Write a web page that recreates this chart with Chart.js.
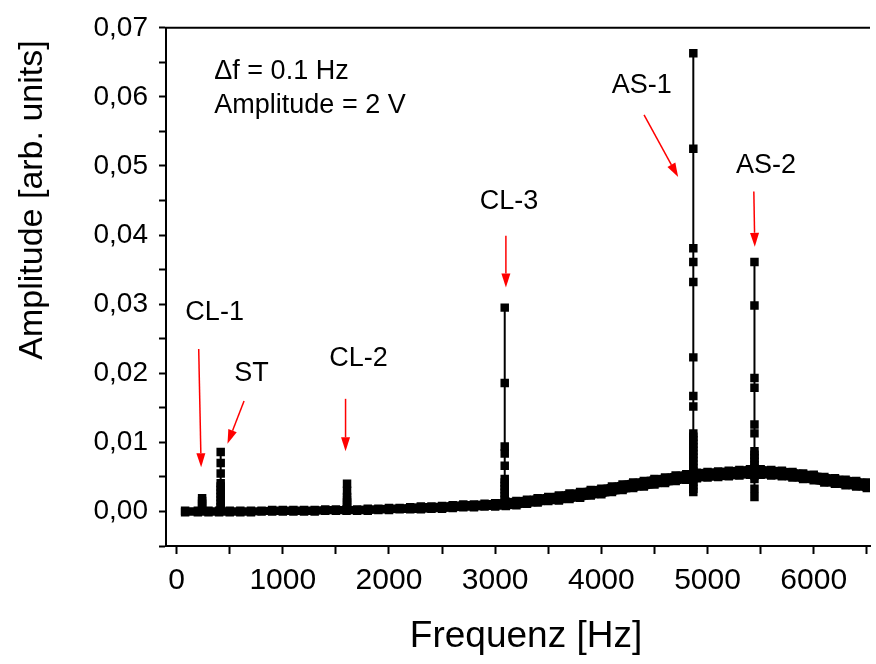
<!DOCTYPE html>
<html>
<head>
<meta charset="utf-8">
<script src="https://cdn.jsdelivr.net/npm/chart.js@4/dist/chart.umd.min.js"></script>
<style>
  html, body { margin: 0; padding: 0; background: #fff; overflow: hidden; }
  canvas { display: block; }
</style>
</head>
<body>
<canvas id="spectrum" width="876" height="664"></canvas>
<script>
// --- data ---
const freqBase = [80, 200, 300, 400, 500, 600, 700, 800, 900, 1000, 1100, 1200, 1300, 1400, 1500, 1600, 1700, 1800, 1900,
    2000, 2100, 2200, 2300, 2400, 2500, 2600, 2700, 2800, 2900, 3000, 3100, 3200, 3300, 3400, 3500, 3600, 3700, 3800,
    3900, 4000, 4100, 4200, 4300, 4400, 4500, 4600, 4700, 4800, 4900, 5000, 5100, 5200, 5300, 5400, 5500, 5600, 5700,
    5800, 5900, 6000, 6100, 6200, 6300, 6400, 6500, 6600];
const ampHigh = [0.0001, 0.0001, 0.0001, 0.0001, 0.0001, 0.0001, 0.0001, 0.0001, 0.0002, 0.0002, 0.0002, 0.0002, 0.0002,
    0.0003, 0.0003, 0.0003, 0.0003, 0.0004, 0.0004, 0.0005, 0.0005, 0.0006, 0.0007, 0.0007, 0.0008, 0.0009, 0.0010,
    0.0010, 0.0011, 0.0012, 0.0014, 0.0015, 0.0017, 0.0019, 0.0021, 0.0023, 0.0026, 0.0028, 0.0031, 0.0033, 0.0036,
    0.0039, 0.0042, 0.0044, 0.0047, 0.0049, 0.0052, 0.0054, 0.0056, 0.0057, 0.0058, 0.0059, 0.0060, 0.0061, 0.0061,
    0.0060, 0.0059, 0.0057, 0.0055, 0.0053, 0.0050, 0.0048, 0.0046, 0.0044, 0.0042, 0.0041];
const ampLow = [-0.0001, -0.0001, -0.0001, -0.0001, -0.0001, -0.0001, -0.0001, 0.0000, 0.0000, 0.0000, 0.0000, 0.0000,
    0.0000, 0.0001, 0.0001, 0.0001, 0.0001, 0.0001, 0.0002, 0.0002, 0.0003, 0.0003, 0.0003, 0.0004, 0.0004, 0.0005,
    0.0006, 0.0006, 0.0007, 0.0007, 0.0008, 0.0009, 0.0011, 0.0013, 0.0015, 0.0016, 0.0018, 0.0020, 0.0023, 0.0025,
    0.0028, 0.0031, 0.0034, 0.0036, 0.0039, 0.0041, 0.0044, 0.0046, 0.0048, 0.0049, 0.0050, 0.0051, 0.0052, 0.0053,
    0.0053, 0.0052, 0.0051, 0.0049, 0.0047, 0.0045, 0.0042, 0.0040, 0.0038, 0.0036, 0.0034, 0.0033];

const peakFreqs = [240, 415, 1605, 3090, 4866, 5442];
const cl1Amp = [0.0019, 0.0015, 0.0011, 0.0007, 0.0003];
const stAmp = [0.0086, 0.0070, 0.0055, 0.0041, 0.0036, 0.0031, 0.0026, 0.0021, 0.0016, 0.0011, 0.0006, 0.0002];
const cl2Amp = [0.0040, 0.0030, 0.0021, 0.0017, 0.0013, 0.0009, 0.0005];
const cl3Amp = [0.0295, 0.0186, 0.0094, 0.0084, 0.0066, 0.0047, 0.0042, 0.0037, 0.0032, 0.0027, 0.0022, 0.0017, 0.0012];
const as1Amp = [0.0663, 0.0525, 0.0381, 0.0361, 0.0332, 0.0223, 0.0167, 0.0152, 0.0113, 0.0108, 0.0103, 0.0098,
    0.0093, 0.0088, 0.0083, 0.0078, 0.0073, 0.0068, 0.0063, 0.0058, 0.0053, 0.0048, 0.0043, 0.0038, 0.0033, 0.0028];
const as2Amp = [0.0361, 0.0298, 0.0193, 0.0179, 0.0126, 0.0113, 0.0087, 0.0082, 0.0077, 0.0072, 0.0067, 0.0062,
    0.0057, 0.0052, 0.0047, 0.0033, 0.0021];
const peakAmps = [cl1Amp, stAmp, cl2Amp, cl3Amp, as1Amp, as2Amp];

const xTicks = [0, 500, 1000, 1500, 2000, 2500, 3000, 3500, 4000, 4500, 5000, 5500, 6000, 6500];
const xTickLabels = [0, 1000, 2000, 3000, 4000, 5000, 6000];
const yTicks = [-0.005, 0, 0.005, 0.01, 0.015, 0.02, 0.025, 0.03, 0.035, 0.04, 0.045, 0.05, 0.055, 0.06, 0.065, 0.07];
const yTickLabels = [0, 0.01, 0.02, 0.03, 0.04, 0.05, 0.06, 0.07];

// annotations (data coordinates)
const noteLines = ['\u0394f = 0.1 Hz', 'Amplitude = 2 V'];
const noteAt = [[355, 0.0636], [355, 0.0588]];
const peakNames = ['CL-1', 'ST', 'CL-2', 'CL-3', 'AS-1', 'AS-2'];
const nameAt = [[358, 0.0288], [705, 0.0200], [1712, 0.0221], [3131, 0.0448], [4380, 0.0617], [5551, 0.0501]];
const arrowFrom = [[208, 0.0235], [635, 0.0160], [1591, 0.0163], [3101, 0.0399], [4402, 0.0574], [5436, 0.0463]];
const arrowTo = [[231, 0.0064], [479, 0.0098], [1591, 0.0087], [3101, 0.0324], [4723, 0.0484], [5445, 0.0383]];

const FONT = '"Liberation Sans", Arial, sans-serif';

// --- decorations: top frame line, axis titles, labels and red arrows ---
const decor = {
    id: 'decor',
    afterDraw(chart) {
        const { ctx, chartArea, scales } = chart;
        const xs = scales.x, ys = scales.y;
        ctx.save();

        ctx.strokeStyle = '#000';
        ctx.lineWidth = 2;
        ctx.beginPath();
        ctx.moveTo(chartArea.left - 1, chartArea.top);
        ctx.lineTo(chartArea.right, chartArea.top);
        ctx.stroke();

        ctx.fillStyle = '#000';
        ctx.font = '27px ' + FONT;
        ctx.textBaseline = 'middle';
        ctx.textAlign = 'left';
        noteLines.forEach((t, i) => {
            ctx.fillText(t, xs.getPixelForValue(noteAt[i][0]), ys.getPixelForValue(noteAt[i][1]));
        });
        ctx.textAlign = 'center';
        peakNames.forEach((t, i) => {
            ctx.fillText(t, xs.getPixelForValue(nameAt[i][0]), ys.getPixelForValue(nameAt[i][1]));
        });

        // red arrows
        ctx.strokeStyle = '#ff0000';
        ctx.fillStyle = '#ff0000';
        ctx.lineWidth = 1.5;
        arrowFrom.forEach((p, i) => {
            const x1 = xs.getPixelForValue(p[0]), y1 = ys.getPixelForValue(p[1]);
            const x2 = xs.getPixelForValue(arrowTo[i][0]), y2 = ys.getPixelForValue(arrowTo[i][1]);
            const ang = Math.atan2(y2 - y1, x2 - x1);
            const head = 14, half = 4.5;
            const bx = x2 - head * Math.cos(ang), by = y2 - head * Math.sin(ang);
            ctx.beginPath();
            ctx.moveTo(x1, y1);
            ctx.lineTo(bx, by);
            ctx.stroke();
            ctx.beginPath();
            ctx.moveTo(x2, y2);
            ctx.lineTo(bx + half * Math.sin(ang), by - half * Math.cos(ang));
            ctx.lineTo(bx - half * Math.sin(ang), by + half * Math.cos(ang));
            ctx.closePath();
            ctx.fill();
        });

        // axis titles
        ctx.fillStyle = '#000';
        ctx.textAlign = 'center';
        ctx.textBaseline = 'alphabetic';
        ctx.font = '37px ' + FONT;
        ctx.fillText('Frequenz [Hz]', 526, 647);
        ctx.save();
        ctx.translate(42, 200);
        ctx.rotate(-Math.PI / 2);
        ctx.font = '34px ' + FONT;
        ctx.fillText('Amplitude [arb. units]', 0, 0);
        ctx.restore();

        ctx.restore();
    }
};

const bandPoints = arr => freqBase.map((f, i) => ({ x: f, y: arr[i] }));
const markerStyle = { pointStyle: 'rect', pointRadius: 6, pointBackgroundColor: '#000', pointBorderWidth: 0 };

const datasets = [
    Object.assign({ data: bandPoints(ampHigh), borderColor: '#000', borderWidth: 7, showLine: true, fill: false }, markerStyle),
    Object.assign({ data: bandPoints(ampLow), borderColor: '#000', borderWidth: 7, showLine: true,
        fill: '-1', backgroundColor: '#000' }, markerStyle)
];
peakFreqs.forEach((f, k) => {
    datasets.push(Object.assign({
        data: peakAmps[k].map(a => ({ x: f, y: a })),
        borderColor: '#000', borderWidth: 2, showLine: true, fill: false
    }, markerStyle));
});

new Chart(document.getElementById('spectrum').getContext('2d'), {
    type: 'scatter',
    data: { datasets: datasets },
    options: {
        responsive: false,
        animation: false,
        events: [],
        layout: { padding: { top: 22, right: 0, left: 0, bottom: 0 } },
        plugins: { legend: { display: false }, tooltip: { enabled: false } },
        scales: {
            x: {
                type: 'linear', min: -100, max: 6530,
                afterBuildTicks: s => { s.ticks = xTicks.map(v => ({ value: v })); },
                afterFit: s => { s.height = 118; },
                border: { display: true, color: '#000', width: 2 },
                grid: { display: true, drawOnChartArea: false, drawTicks: true, tickLength: 8, tickWidth: 2, tickColor: '#000' },
                ticks: {
                    color: '#000', padding: 9, maxRotation: 0, autoSkip: false,
                    font: { family: FONT, size: 30 },
                    callback: v => xTickLabels.includes(v) ? String(v) : ''
                }
            },
            y: {
                type: 'linear', min: -0.005, max: 0.07,
                afterBuildTicks: s => { s.ticks = yTicks.map(v => ({ value: v })); },
                afterFit: s => { s.width = 166; },
                border: { display: true, color: '#000', width: 2 },
                grid: { display: true, drawOnChartArea: false, drawTicks: true, tickLength: 7, tickWidth: 2, tickColor: '#000' },
                ticks: {
                    color: '#000', padding: 11, autoSkip: false,
                    font: { family: FONT, size: 28 },
                    callback: v => yTickLabels.some(l => Math.abs(l - v) < 1e-9) ? v.toFixed(2).replace('.', ',') : ''
                }
            }
        }
    },
    plugins: [decor]
});
</script>
</body>
</html>
